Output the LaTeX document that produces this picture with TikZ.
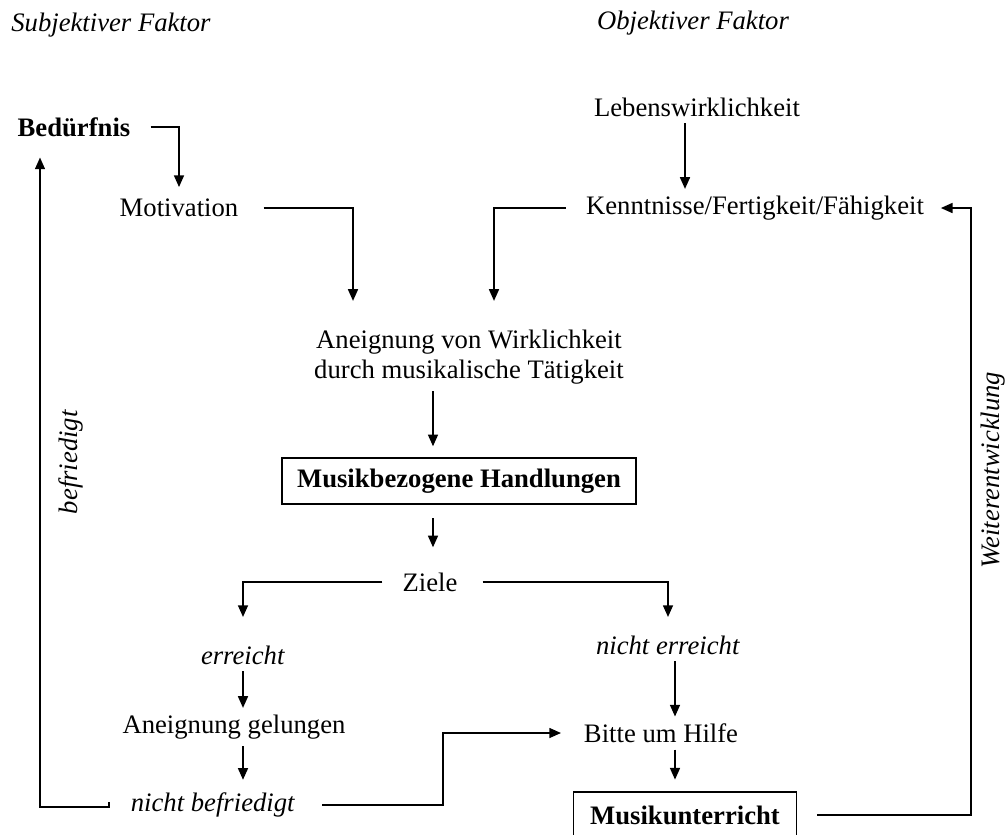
\documentclass[tikz,border=0pt]{standalone}
\usepackage{fontspec}
\setmainfont{Liberation Serif}
\usetikzlibrary{arrows.meta,calc}
\tikzset{every node/.style={inner sep=4pt, font=\fontsize{16pt}{18pt}\selectfont},
  pfeil/.style={-{Triangle[length=7pt,width=6pt]}, line width=0.9pt},
  kasten/.style={draw, line width=0.9pt, inner xsep=9pt, minimum height=27.6pt}}

\begin{document}
\begin{tikzpicture}[x=0.6pt, y=-0.6pt]
\useasboundingbox (0,0) rectangle (1007,834);

\node (subj) at (111,25) {\textit{Subjektiver Faktor}};
\node (obj) at (693,23) {\textit{Objektiver Faktor}};

\node (bed) at (74,127) {\textbf{Bedürfnis}};
\node (mot) at (179,208) {Motivation};
\node (leben) at (697,107) {Lebenswirklichkeit};
\node (kennt) at (755,208) {Kenntnisse/Fertigkeit/Fähigkeit};
\node[align=center] (aneig) at (469,357) {Aneignung von Wirklichkeit\\durch musikalische Tätigkeit};
\node[kasten] (handl) at (459,481) {\textbf{Musikbezogene Handlungen}};
\node (ziele) at (430,582) {Ziele};
\node (erreicht) at (243,655) {\textit{erreicht}};
\node (nerr) at (668,645) {\textit{nicht erreicht}};
\node (gelungen) at (234,727) {Aneignung gelungen};
\node (hilfe) at (661,733) {Bitte um Hilfe};
\node (nbefr) at (213,805) {\textit{nicht befriedigt}};
\node[kasten, inner xsep=10pt] (unterr) at (685,815) {\textbf{Musikunterricht}};

\node[rotate=90] (befr) at (71,462) {\textit{befriedigt}};
\node[rotate=90] (weiter) at (993,470) {\textit{Weiterentwicklung}};

\coordinate (lebenfuss) at ($(leben.south)+(-12,0)$);
\coordinate (spalte) at (433,500);
\coordinate (rechts) at (675,700);

\draw[pfeil, shorten <=8pt, shorten >=3pt] (bed.east) -| (mot.north);
\draw[pfeil, shorten <=11pt] (mot.east) -| ($(aneig.north)+(-116,-22)$);
\draw[pfeil] (lebenfuss) -- (lebenfuss |- kennt.north);
\draw[pfeil, shorten <=8pt] (kennt.west) -| ($(aneig.north)+(25,-22)$);
\draw[pfeil, shorten >=6.6pt] (aneig.south -| spalte) -- (handl.north -| spalte);
\draw[pfeil, shorten <=8pt, shorten >=11pt] (handl.south -| spalte) -- (ziele.north -| spalte);
\draw[pfeil, shorten <=8pt, shorten >=13pt] (ziele.west) -| (erreicht.north);
\draw[pfeil, shorten <=11pt, shorten >=7pt] (ziele.east) -| (nerr.north);
\draw[pfeil] (erreicht.south) -- (erreicht.south |- gelungen.north);
\draw[pfeil, shorten >=3.6pt] (gelungen.south -| erreicht.south) -- (nbefr.north -| erreicht.south);
\draw[pfeil] ($(nbefr.west)+(-15,-3)$) -- ++(0,5) -| ($(bed.south)+(-34,14)$);
\draw[pfeil, shorten <=12pt, shorten >=9.6pt] (nbefr.east) -- ++(141,0) |- (hilfe.west);
\draw[pfeil] (nerr.south -| rechts) -- (hilfe.north -| rechts);
\draw[pfeil, shorten >=7pt] (hilfe.south -| rechts) -- (unterr.north -| rechts);
\draw[pfeil, shorten <=12pt, shorten >=6pt] (unterr.east) -- ++(174,0) |- (kennt.east);
\end{tikzpicture}
\end{document}
